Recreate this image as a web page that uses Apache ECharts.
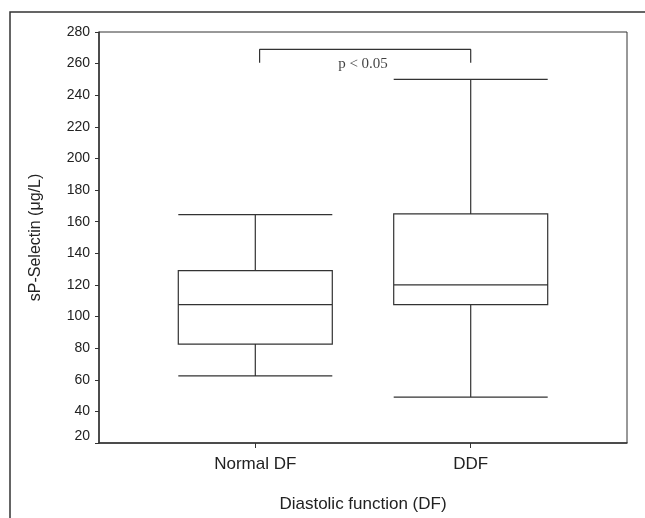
<!DOCTYPE html>
<html>
<head>
<meta charset="utf-8">
<script src="https://cdn.jsdelivr.net/npm/echarts@6/dist/echarts.min.js"></script>
<style>
html,body{margin:0;padding:0;background:#fff}
#chart{width:645px;height:518px}
</style>
</head>
<body>
<div id="chart"></div>
<script>
/* data */
var groups = ['Normal DF', 'DDF'];
var groupPos = [1, 2];
var mins = [62.5, 49];
var q1s = [82.5, 107.5];
var medians = [107.5, 120];
var q3s = [129, 165];
var maxs = [164.5, 250];

/* significance bracket */
var bracketX = [1.02, 1.02, 2, 2];
var bracketY = [260.5, 269, 269, 260.5];
var pLabel = 'p < 0.05';
var pPos = [1.5, 259.5];

var boxData = groupPos.map(function(x, i){
	return [x, mins[i], q1s[i], medians[i], q3s[i], maxs[i]];
});
var bracketData = bracketX.map(function(x, i){
	return [x, bracketY[i]];
});

var ink = '#333';
var myChart = echarts.init(document.getElementById('chart'));

var option = {
	animation: false,
	textStyle: { fontFamily: 'Liberation Sans, Arial, sans-serif' },
	graphic: [{
		type: 'rect',
		shape: { x: 10, y: 12, width: 700, height: 600 },
		style: { fill: 'none', stroke: ink, lineWidth: 1.5 },
		silent: true
	}],
	grid: {
		left: 99, right: 18, top: 32, bottom: 72,
		show: true, borderColor: ink, borderWidth: 1, backgroundColor: 'transparent'
	},
	xAxis: {
		type: 'value',
		min: 0.2744,
		max: 2.7256,
		splitLine: { show: false },
		axisLine: { show: true, onZero: false, lineStyle: { color: ink, width: 1.5 } },
		axisTick: { show: true, customValues: groupPos, length: 5, lineStyle: { color: ink } },
		axisLabel: {
			customValues: groupPos,
			formatter: function(v){ return groups[groupPos.indexOf(v)] || ''; },
			fontSize: 17, color: '#222', margin: 13
		},
		name: 'Diastolic function (DF)',
		nameLocation: 'middle',
		nameGap: 53,
		nameTextStyle: { fontSize: 17, color: '#222' }
	},
	yAxis: {
		type: 'value',
		min: 20,
		max: 280,
		interval: 20,
		splitLine: { show: false },
		axisLine: { show: true, lineStyle: { color: ink, width: 1.5 } },
		axisTick: { show: true, length: 4, lineStyle: { color: ink } },
		axisLabel: { fontSize: 14, color: '#222', margin: 9, verticalAlignMinLabel: 'bottom' },
		name: 'sP-Selectin (μg/L)',
		nameLocation: 'middle',
		nameGap: 55,
		nameTextStyle: { fontSize: 16, color: '#222' }
	},
	series: [
		{
			type: 'boxplot',
			data: boxData,
			boxWidth: [154, 154],
			itemStyle: { color: '#fff', borderColor: ink, borderWidth: 1.2 },
			emphasis: { disabled: true },
			silent: true
		},
		{
			type: 'line',
			data: bracketData,
			symbol: 'none',
			lineStyle: { color: ink, width: 1.2 },
			silent: true
		},
		{
			type: 'scatter',
			data: [pPos],
			symbolSize: 1,
			itemStyle: { color: 'transparent' },
			label: {
				show: true, position: 'inside', formatter: pLabel,
				fontFamily: 'Liberation Serif, Times New Roman, serif',
				fontSize: 15, color: '#111'
			},
			silent: true
		}
	]
};
myChart.setOption(option);
</script>
</body>
</html>
